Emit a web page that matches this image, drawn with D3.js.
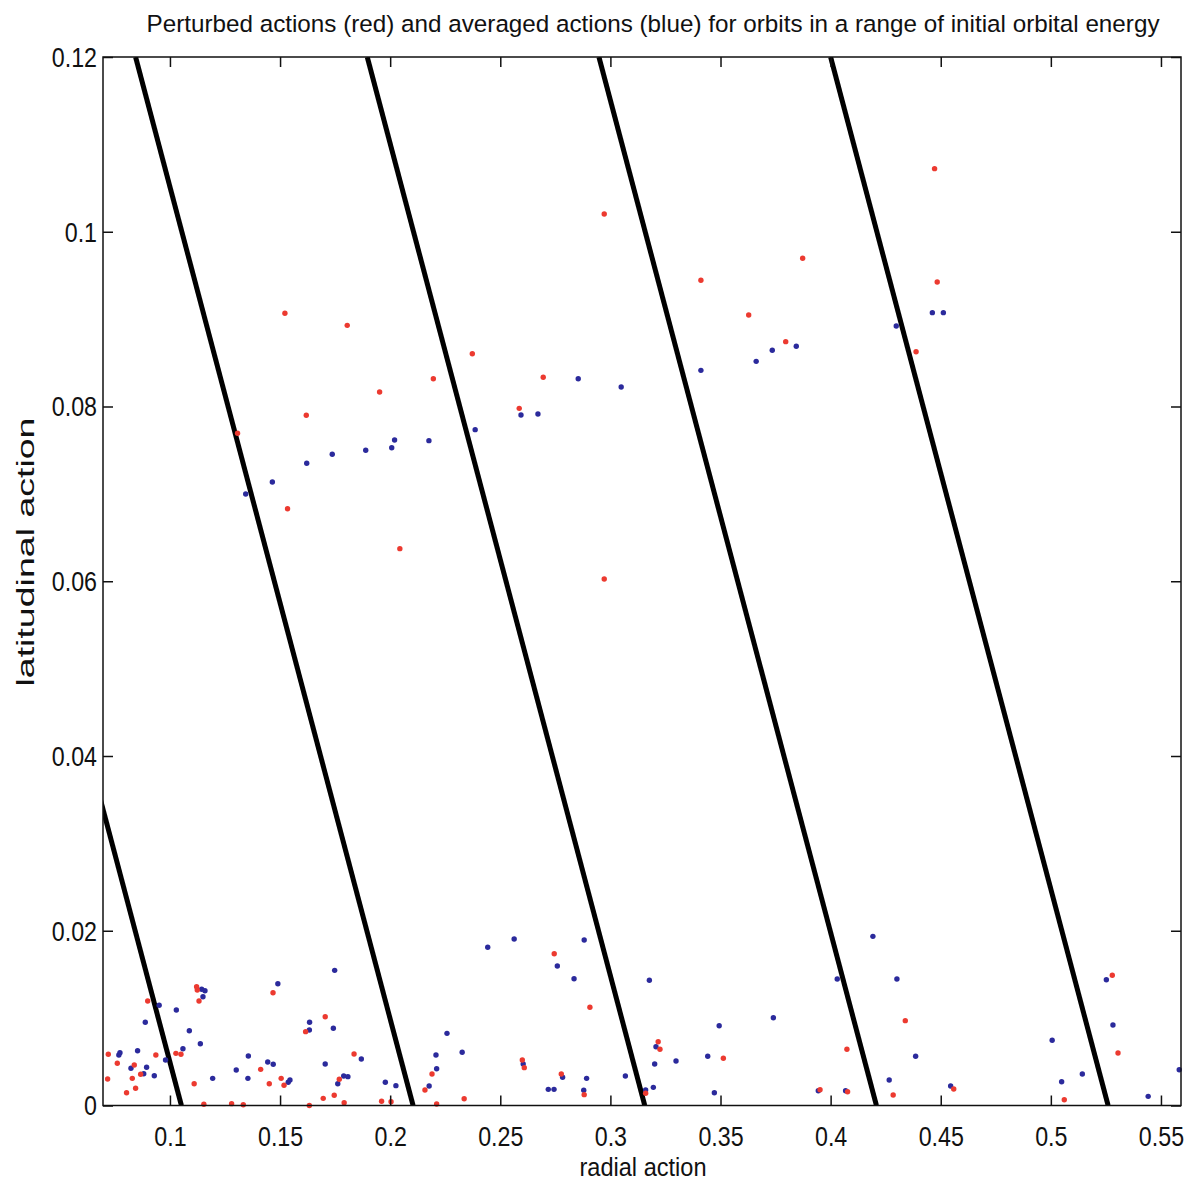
<!DOCTYPE html>
<html>
<head>
<meta charset="utf-8">
<style>
body { margin: 0; background: #fff; }
svg text { font-family: "Liberation Sans", Arial, Helvetica, sans-serif; fill: #111; }
.axis line { stroke: #111; stroke-width: 1.5; }
.axis path { display: none; }
</style>
</head>
<body>
<div id="chart"></div>
<script src="https://cdn.jsdelivr.net/npm/d3@7.8.5/dist/d3.min.js"></script>
<script>
// perturbed actions (red), [radial action, latitudinal action]
const perturbed = [
  [0.0720, 0.00586], [0.0761, 0.00483], [0.0838, 0.00464], [0.0867, 0.00357],
  [0.0829, 0.00311], [0.0717, 0.00303], [0.0844, 0.00197], [0.0803, 0.00146],
  [0.0936, 0.00578], [0.1027, 0.00597], [0.1050, 0.00586], [0.0899, 0.01196],
  [0.1121, 0.01360], [0.1124, 0.01322], [0.1132, 0.01196], [0.1110, 0.00249],
  [0.1154, 0.00014], [0.1280, 0.00021], [0.1333, 0.00009], [0.1412, 0.00414],
  [0.1451, 0.00249], [0.1505, 0.00311], [0.1518, 0.00231], [0.1468, 0.01291],
  [0.1633, 0.00000], [0.1616, 0.00845], [0.1705, 0.01016], [0.1836, 0.00589],
  [0.1769, 0.00300], [0.1696, 0.00082], [0.1746, 0.00117], [0.1791, 0.00032],
  [0.1961, 0.00048], [0.2004, 0.00043], [0.2211, 0.00017], [0.2190, 0.00361],
  [0.2158, 0.00177], [0.2336, 0.00078], [0.2600, 0.00521], [0.2609, 0.00433],
  [0.2745, 0.01737], [0.2777, 0.00361], [0.2881, 0.00124], [0.2907, 0.01124],
  [0.3217, 0.00730], [0.3225, 0.00643], [0.3513, 0.00540], [0.3160, 0.00140],
  [0.4339, 0.00971], [0.4074, 0.00643], [0.4284, 0.00120], [0.3952, 0.00181],
  [0.4077, 0.00158], [0.4559, 0.00189], [0.5061, 0.00066], [0.5279, 0.01490],
  [0.5305, 0.00601],
  [0.1522, 0.09067], [0.1805, 0.08929], [0.2373, 0.08604], [0.2196, 0.08318],
  [0.1952, 0.08166], [0.1619, 0.07899], [0.1307, 0.07693], [0.1534, 0.06830],
  [0.2044, 0.06373], [0.2972, 0.10203], [0.3873, 0.09696], [0.3411, 0.09445],
  [0.4484, 0.09425], [0.3628, 0.09047], [0.4388, 0.08627], [0.3796, 0.08742],
  [0.2695, 0.08334], [0.2586, 0.07979], [0.4472, 0.10722], [0.2972, 0.06026]
];

// averaged actions (blue)
const averaged = [
  [0.0768, 0.00578], [0.0773, 0.00604], [0.0853, 0.00627], [0.0823, 0.00426],
  [0.0894, 0.00437], [0.0881, 0.00364], [0.0929, 0.00341], [0.0980, 0.00521],
  [0.1059, 0.00650], [0.0888, 0.00952], [0.0951, 0.01147], [0.1029, 0.01093],
  [0.1088, 0.00856], [0.1138, 0.00707], [0.1144, 0.01330], [0.1159, 0.01314],
  [0.1150, 0.01245], [0.1194, 0.00311], [0.1301, 0.00406], [0.1356, 0.00567],
  [0.1354, 0.00311], [0.1444, 0.00498], [0.1469, 0.00472], [0.1537, 0.00266],
  [0.1545, 0.00292], [0.1490, 0.01394], [0.1633, 0.00864], [0.1634, 0.00952],
  [0.1748, 0.01547], [0.1742, 0.00884], [0.1705, 0.00475], [0.1869, 0.00532],
  [0.1789, 0.00338], [0.1808, 0.00330], [0.1762, 0.00249], [0.1978, 0.00266],
  [0.2026, 0.00227], [0.2208, 0.00578], [0.2211, 0.00421], [0.2177, 0.00223],
  [0.2258, 0.00826], [0.2443, 0.01811], [0.2563, 0.01906], [0.2881, 0.01894],
  [0.2759, 0.01597], [0.2835, 0.01451], [0.2327, 0.00609], [0.2604, 0.00475],
  [0.2783, 0.00323], [0.2892, 0.00311], [0.2718, 0.00185], [0.2744, 0.00185],
  [0.2879, 0.00174], [0.3068, 0.00338], [0.3177, 0.01433], [0.3207, 0.00673],
  [0.3201, 0.00475], [0.3298, 0.00509], [0.3442, 0.00563], [0.3494, 0.00913],
  [0.3740, 0.01005], [0.3160, 0.00177], [0.3195, 0.00208], [0.3472, 0.00146],
  [0.4192, 0.01936], [0.4030, 0.01448], [0.4301, 0.01448], [0.4386, 0.00563],
  [0.4266, 0.00292], [0.3944, 0.00169], [0.4068, 0.00169], [0.4545, 0.00223],
  [0.5006, 0.00746], [0.5049, 0.00272], [0.5143, 0.00361], [0.5252, 0.01440],
  [0.5282, 0.00921], [0.5583, 0.00410], [0.5442, 0.00105],
  [0.2386, 0.07735], [0.2020, 0.07617], [0.2007, 0.07528], [0.2176, 0.07609],
  [0.1889, 0.07499], [0.1737, 0.07453], [0.1621, 0.07350], [0.1465, 0.07136],
  [0.1344, 0.06999], [0.4298, 0.08921], [0.4462, 0.09074], [0.4512, 0.09074],
  [0.3844, 0.08689], [0.3735, 0.08643], [0.3662, 0.08517], [0.3411, 0.08414],
  [0.2854, 0.08318], [0.3049, 0.08223], [0.2594, 0.07903], [0.2671, 0.07914]
];

// black guide lines: radial action at zero latitudinal action, and the slope
const lineIntercepts = [0.1052, 0.2104, 0.3156, 0.4208, 0.5260];
const lineSlope = 1.05;

const xTicks = [0.1, 0.15, 0.2, 0.25, 0.3, 0.35, 0.4, 0.45, 0.5, 0.55];
const yTicks = [0, 0.02, 0.04, 0.06, 0.08, 0.1, 0.12];

const width = 1192, height = 1182;
const margin = {top: 57, right: 11, bottom: 76.5, left: 103};
const w = width - margin.left - margin.right;
const h = height - margin.top - margin.bottom;

const svg = d3.select("#chart").append("svg")
    .attr("width", width)
    .attr("height", height);

const g = svg.append("g").attr("transform", `translate(${margin.left},${margin.top})`);

const x = d3.scaleLinear().domain([0.0696, 0.5591]).range([0, w]);
const y = d3.scaleLinear().domain([0, 0.12]).range([h, 0]);

g.append("clipPath").attr("id", "clip")
  .append("rect").attr("width", w).attr("height", h);

// guide lines
g.append("g").attr("clip-path", "url(#clip)")
  .selectAll("line").data(lineIntercepts).join("line")
    .attr("x1", d => x(d)).attr("y1", y(0))
    .attr("x2", d => x(d - lineSlope * 0.12)).attr("y2", y(0.12))
    .attr("stroke", "#000").attr("stroke-width", 5);

// points
g.append("g").selectAll("circle").data(averaged).join("circle")
    .attr("cx", d => x(d[0])).attr("cy", d => y(d[1]))
    .attr("r", 2.7).attr("fill", "#2b2a9c");
g.append("g").selectAll("circle").data(perturbed).join("circle")
    .attr("cx", d => x(d[0])).attr("cy", d => y(d[1]))
    .attr("r", 2.7).attr("fill", "#ec3a30");

// axes, ticks pointing inwards
const fmt = d => String(+d.toFixed(2));
g.append("g").attr("class", "axis x").attr("transform", `translate(0,${h})`)
  .call(d3.axisBottom(x).tickValues(xTicks).tickSize(-10).tickPadding(33).tickFormat(fmt));
g.append("g").attr("class", "axis")
  .call(d3.axisTop(x).tickValues(xTicks).tickSize(-10).tickFormat(""));
g.append("g").attr("class", "axis y")
  .call(d3.axisLeft(y).tickValues(yTicks).tickSize(-10).tickPadding(6).tickFormat(fmt));
g.append("g").attr("class", "axis").attr("transform", `translate(${w},0)`)
  .call(d3.axisRight(y).tickValues(yTicks).tickSize(-10).tickFormat(""));

g.append("rect").attr("width", w).attr("height", h)
  .attr("fill", "none").attr("stroke", "#111").attr("stroke-width", 1.5);

// condensed tick labels
svg.selectAll(".axis text")
  .attr("font-size", 27)
  .attr("font-family", null)
  .each(function() {
    const t = d3.select(this);
    t.attr("textLength", this.getComputedTextLength() * 0.86)
     .attr("lengthAdjust", "spacingAndGlyphs");
  });
svg.selectAll(".axis.x text").attr("dy", null).attr("y", 40);
svg.selectAll(".axis.y text").attr("dy", "0.35em");

// title and axis labels
svg.append("text")
    .attr("x", 653).attr("y", 32)
    .attr("text-anchor", "middle")
    .attr("font-size", 24.5)
    .attr("textLength", 1013).attr("lengthAdjust", "spacingAndGlyphs")
    .text("Perturbed actions (red) and averaged actions (blue) for orbits in a range of initial orbital energy");

svg.append("text")
    .attr("x", 643).attr("y", 1176)
    .attr("text-anchor", "middle")
    .attr("font-size", 25)
    .attr("textLength", 127).attr("lengthAdjust", "spacingAndGlyphs")
    .text("radial action");

svg.append("text")
    .attr("transform", "translate(34,552) rotate(-90)")
    .attr("text-anchor", "middle")
    .attr("font-size", 23)
    .attr("textLength", 269).attr("lengthAdjust", "spacingAndGlyphs")
    .text("latitudinal action");
</script>
</body>
</html>
